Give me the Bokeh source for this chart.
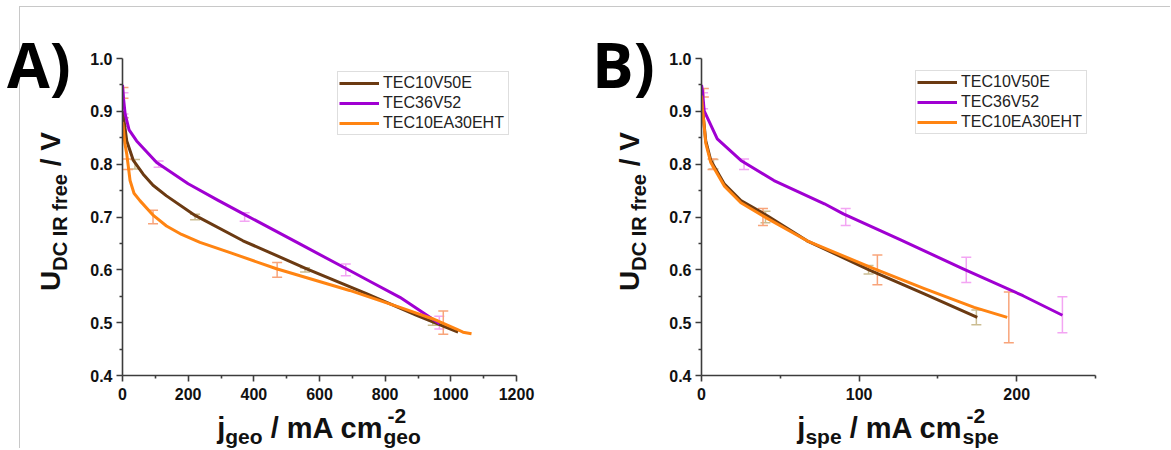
from bokeh.plotting import figure
from bokeh.models import (ColumnDataSource, Whisker, TeeHead, Legend, LegendItem, Div,
                          FixedTicker, NumeralTickFormatter, Range1d)
from bokeh.layouts import row, column
from bokeh.embed import file_html
from bokeh.resources import INLINE

# ---------------- data ----------------
series_names = ["TEC10V50E", "TEC36V52", "TEC10EA30EHT"]
line_colors = ["#6b3a12", "#a000d2", "#ff8412"]
err_colors = ["#cbbd92", "#f3a5f3", "#f8a47a"]

y_ticks = [0.4, 0.5, 0.6, 0.7, 0.8, 0.9, 1.0]
y_minor = [0.45, 0.55, 0.65, 0.75, 0.85, 0.95]

# Panel A : j_geo (mA cm-2 geo) vs U (V)
a_x_ticks = [0, 200, 400, 600, 800, 1000, 1200]
a_x_minor = [100, 300, 500, 700, 900, 1100]
a_brown_j = [0, 3, 13, 33, 63, 93, 134, 221, 367, 561, 743, 896, 1022]
a_brown_u = [0.90, 0.89, 0.844, 0.807, 0.781, 0.760, 0.740, 0.703, 0.655, 0.602, 0.555, 0.514, 0.482]
a_purple_j = [0, 3, 8, 20, 43, 104, 200, 290, 368, 540, 682, 760, 845, 966]
a_purple_u = [0.95, 0.925, 0.895, 0.865, 0.844, 0.803, 0.763, 0.732, 0.706, 0.649, 0.602, 0.576,
              0.548, 0.498]
a_orange_j = [0, 2, 7, 13, 23, 35, 53, 94, 134, 180, 236, 330, 469, 692, 845, 946, 1017, 1037, 1063]
a_orange_u = [0.88, 0.872, 0.84, 0.819, 0.769, 0.745, 0.731, 0.703, 0.683, 0.667, 0.652, 0.632,
              0.602, 0.561, 0.529, 0.507, 0.488, 0.482, 0.479]
# error bars (x, centre, half-width)
a_brown_ej = [4, 38, 221, 556, 945]
a_brown_eu = [0.88, 0.80, 0.70, 0.60, 0.50]
a_brown_ee = [0.008, 0.009, 0.005, 0.004, 0.005]
a_purple_ej = [3, 110, 372, 680, 965]
a_purple_eu = [0.915, 0.80, 0.70, 0.60, 0.50]
a_purple_ee = [0.02, 0.006, 0.008, 0.011, 0.012]
a_orange_ej = [3, 17, 93, 471, 977]
a_orange_eu = [0.935, 0.80, 0.70, 0.60, 0.50]
a_orange_ee = [0.01, 0.01, 0.013, 0.014, 0.022]

# Panel B : j_spe (mA cm-2 spe) vs U (V)
b_x_ticks = [0, 100, 200]
b_x_minor = [50, 150, 250]
b_brown_j = [0, 0.6, 2.7, 5.9, 14.4, 25, 42, 67, 107, 141, 175]
b_brown_u = [0.92, 0.907, 0.844, 0.807, 0.763, 0.731, 0.702, 0.655, 0.599, 0.555, 0.510]
b_purple_j = [0, 0.6, 1.7, 10, 25, 46, 78, 90, 126, 166, 204, 229]
b_purple_u = [0.95, 0.939, 0.901, 0.848, 0.807, 0.769, 0.725, 0.706, 0.657, 0.602, 0.551, 0.514]
b_orange_j = [0, 0.6, 2.7, 5.9, 14.4, 25, 42, 67, 107, 141, 173, 194]
b_orange_u = [0.93, 0.905, 0.840, 0.803, 0.759, 0.727, 0.697, 0.655, 0.605, 0.565, 0.529, 0.510]
b_brown_ej = [7.6, 40.6, 106, 174.4]
b_brown_eu = [0.80, 0.70, 0.60, 0.51]
b_brown_ee = [0.009, 0.011, 0.008, 0.014]
b_purple_ej = [1, 27, 91.5, 168, 229]
b_purple_eu = [0.92, 0.80, 0.70, 0.60, 0.515]
b_purple_ee = [0.015, 0.01, 0.016, 0.024, 0.034]
b_orange_ej = [1.5, 7, 39, 111.6, 195]
b_orange_eu = [0.935, 0.80, 0.70, 0.60, 0.51]
b_orange_ee = [0.008, 0.01, 0.016, 0.028, 0.048]

# ---------------- styling helpers ----------------
FONT = "Liberation Sans"
BW = {'j': .278, 'g': .611, 'e': .556, 'o': .611, ' ': .278, '/': .278, 'm': .889, 'A': .722,
      'c': .556, '-': .333, '2': .556, 'U': .722, 'D': .722, 'C': .722, 'I': .278, 'R': .722,
      'f': .333, 'r': .389, 'V': .667, 's': .556, 'p': .611}

FW, FH, FTOP = 394, 317, 58      # plot frame size and top (page px)
PH = 410                          # plot figure height
TOTAL_H = 448
M, S = 28, 20                     # main / sub font sizes of the y-axis title
XM, XS = 29, 21                   # main / sub font sizes of the x-axis title


def tw(s, size):
    return sum(BW.get(ch, 0.556) for ch in s) * size


def span(text, left, top, size, font=FONT, extra=""):
    return (f'<span style="position:absolute;left:{left:.1f}px;top:{top:.1f}px;white-space:pre;'
            f"font-family:'{font}';font-weight:bold;font-size:{size}px;line-height:1;"
            f'color:#111;{extra}">{text}</span>')


def base_top(baseline, size, asc=0.905, desc=0.212):
    # top of a line-height:1 box whose baseline sits at `baseline`
    return baseline - ((size - (asc + desc) * size) / 2 + asc * size)


def make_panel(letter, page_x, side_w, plot_w, frame_left, xmax, xt, xm, curves, errs, sub,
               legend_xy):
    # ---- plot ----
    p = figure(width=plot_w, height=PH, output_backend="svg", toolbar_location=None,
               x_range=Range1d(0, xmax), y_range=Range1d(0.4, 1.0))
    plot_x = page_x + side_w
    p.min_border_left = frame_left - plot_x
    p.min_border_right = plot_w - (frame_left - plot_x) - FW
    p.min_border_top = FTOP
    p.min_border_bottom = PH - FTOP - FH
    p.background_fill_color = None
    p.border_fill_color = None
    p.outline_line_color = None
    p.xgrid.visible = False
    p.ygrid.visible = False

    p.xaxis.ticker = FixedTicker(ticks=xt, minor_ticks=xm)
    p.yaxis.ticker = FixedTicker(ticks=y_ticks, minor_ticks=y_minor)
    p.yaxis.formatter = NumeralTickFormatter(format="0.0")
    for ax in (p.xaxis[0], p.yaxis[0]):
        ax.axis_line_color = "#3c3c3c"
        ax.axis_line_width = 1.6
        ax.major_tick_line_color = "#3c3c3c"
        ax.major_tick_line_width = 1.6
        ax.minor_tick_line_color = "#3c3c3c"
        ax.minor_tick_line_width = 1.6
        ax.major_tick_in = 0
        ax.major_tick_out = 6
        ax.minor_tick_in = 0
        ax.minor_tick_out = 3
        ax.major_label_text_font = FONT
        ax.major_label_text_font_style = "bold"
        ax.major_label_text_font_size = "16px"
        ax.major_label_text_color = "#111111"
    p.xaxis.major_label_standoff = 6
    p.yaxis.major_label_standoff = 4

    for (ej, eu, ee), c in zip(errs, err_colors):
        src = ColumnDataSource(dict(x=ej, lo=[u - e for u, e in zip(eu, ee)],
                                    hi=[u + e for u, e in zip(eu, ee)]))
        p.add_layout(Whisker(base="x", lower="lo", upper="hi", source=src, dimension="height",
                             line_color=c, line_width=1.5,
                             upper_head=TeeHead(size=10, line_color=c, line_width=1.5),
                             lower_head=TeeHead(size=10, line_color=c, line_width=1.5)))

    rends = [p.line(xs, ys, line_color=c, line_width=3, line_join="round")
             for (xs, ys), c in zip(curves, line_colors)]

    lg = Legend(items=[LegendItem(label=n, renderers=[r]) for n, r in zip(series_names, rends)],
                location=legend_xy)
    lg.border_line_color = "#bdbdbd"
    lg.border_line_width = 1
    lg.padding = 1
    lg.margin = 0
    lg.spacing = 0
    lg.glyph_width = 40
    lg.glyph_height = 20
    lg.label_height = 20
    lg.label_standoff = 4
    lg.label_width = 124
    lg.label_text_font = FONT
    lg.label_text_font_size = "16px"
    lg.label_text_color = "#222222"
    lg.background_fill_color = "white"
    lg.background_fill_alpha = 1
    p.add_layout(lg)

    # ---- side: panel letter + rotated y-axis title ----
    letter_left = 7 if letter == "A)" else 12
    parts = [span(letter, letter_left, base_top(88, 62, 1.069, 0.293), 62, font="Open Sans",
                  extra="color:#000;")]
    total = tw("U", M) + tw("DC IR free", S) + tw(" / V", M)
    y_start = 211 + total / 2
    base_x = frame_left - 61 - page_x
    box_left = base_x - ((M - 1.117 * M) / 2 + 0.905 * M)
    ylab = (f'U<span style="font-size:{S}px;vertical-align:-7px">DC IR free</span> / V')
    parts.append(span(ylab, box_left, y_start, M,
                      extra="transform-origin:0 0;transform:rotate(-90deg);"))
    side = Div(text=f'<div style="position:relative;width:{side_w}px;height:{PH}px">'
                    + "".join(parts) + "</div>",
               width=side_w, height=PH, margin=0, styles={"overflow": "visible"})

    # ---- x-axis title ----
    xw = side_w + plot_w
    cx = frame_left + FW / 2 - page_x
    total = tw("j", XM) + tw(sub, XS) + tw(" / mA cm", XM) + tw(sub, XS)
    x0 = cx - total / 2
    by = 438 - PH
    xparts = [span("j", x0, base_top(by, XM), XM)]
    x0 += tw("j", XM)
    xparts.append(span(sub, x0, base_top(by + 6, XS), XS))
    x0 += tw(sub, XS)
    xparts.append(span("/ mA cm", x0 + tw(" ", XM), base_top(by, XM), XM))
    x0 += tw(" / mA cm", XM)
    xparts.append(span("-2", x0 + 4, base_top(by - 15, XS), XS))
    xparts.append(span(sub, x0, base_top(by + 6, XS), XS))
    xl = Div(text=f'<div style="position:relative;width:{xw}px;height:{TOTAL_H - PH}px">'
                  + "".join(xparts) + "</div>",
             width=xw, height=TOTAL_H - PH, margin=0, styles={"overflow": "visible"})

    return column(row(side, p), xl)


colA = make_panel("A)", 0, 80, 500, 122, 1200, a_x_ticks, a_x_minor,
                  [(a_brown_j, a_brown_u), (a_purple_j, a_purple_u), (a_orange_j, a_orange_u)],
                  [(a_brown_ej, a_brown_eu, a_brown_ee), (a_purple_ej, a_purple_eu, a_purple_ee),
                   (a_orange_ej, a_orange_eu, a_orange_ee)],
                  "geo", (215, 240))
colB = make_panel("B)", 580, 80, 510, 701, 250, b_x_ticks, b_x_minor,
                  [(b_brown_j, b_brown_u), (b_purple_j, b_purple_u), (b_orange_j, b_orange_u)],
                  [(b_brown_ej, b_brown_eu, b_brown_ee), (b_purple_ej, b_purple_eu, b_purple_ee),
                   (b_orange_ej, b_orange_eu, b_orange_ee)],
                  "spe", (214, 241))

layout = row(colA, colB,
             styles={"background-image": "linear-gradient(#c8c8c8,#c8c8c8),linear-gradient(#c8c8c8,#c8c8c8)",
                     "background-size": "100% 1px, 1px 100%",
                     "background-position": "19px 6px, 19px 6px",
                     "background-repeat": "no-repeat"})

open("out.html", "w").write(file_html(layout, INLINE))
